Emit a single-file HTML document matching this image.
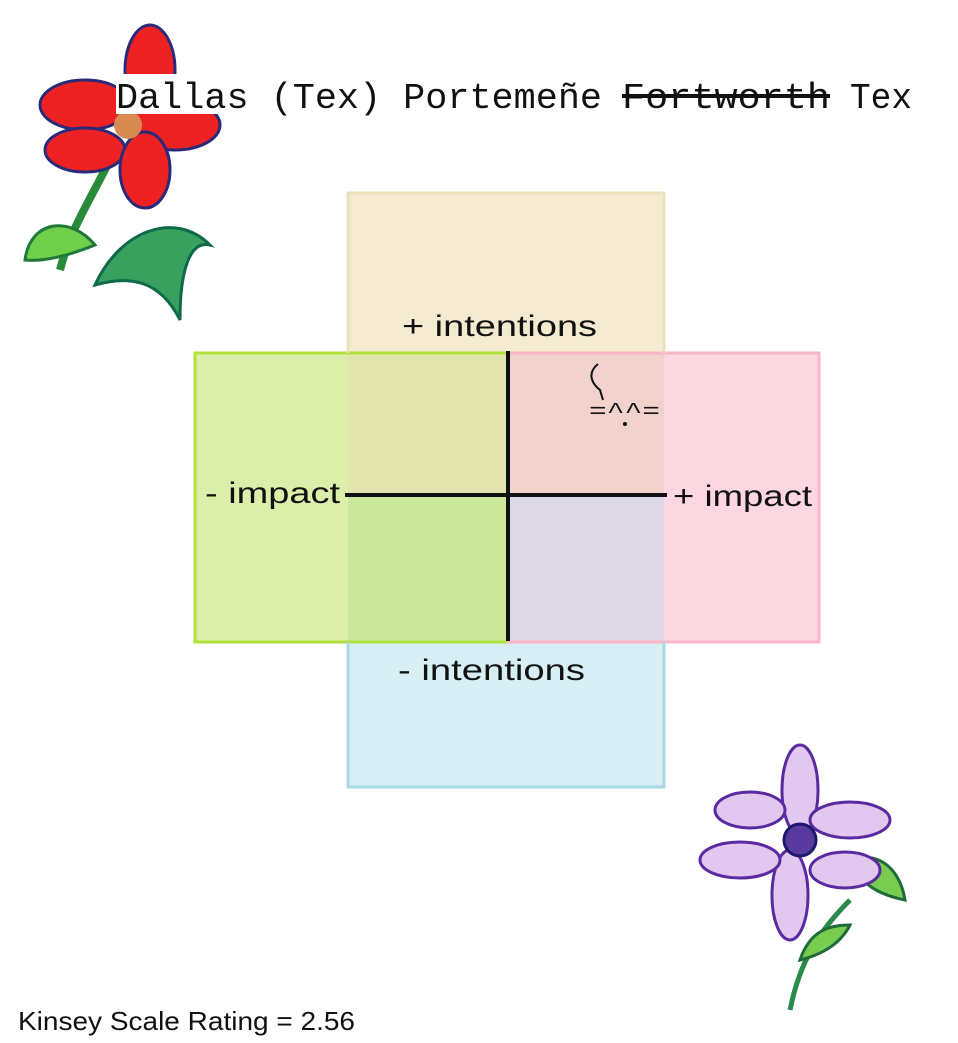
<!DOCTYPE html>
<html><head><meta charset="utf-8"><style>
html,body{margin:0;padding:0;background:#fff;width:958px;height:1043px;overflow:hidden}
svg{display:block}
</style></head><body>
<svg width="958" height="1043" viewBox="0 0 958 1043" xmlns="http://www.w3.org/2000/svg">
<!-- red flower -->
<g>
<path d="M60 270 C70 230 90 200 110 160" stroke="#2a8a3a" stroke-width="8" fill="none"/>
<path d="M25 260 C30 220 70 215 95 245 C70 255 45 262 25 260Z" fill="#6fcf4a" stroke="#1f7a3a" stroke-width="3"/>
<path d="M95 285 C120 230 175 210 210 245 C190 240 180 270 180 320 C160 280 130 275 95 285Z" fill="#3aa060" stroke="#0f6a4a" stroke-width="3"/>
<ellipse cx="85" cy="105" rx="45" ry="25" fill="#ee2222" stroke="#2a2a7a" stroke-width="3"/>
<ellipse cx="150" cy="70" rx="25" ry="45" fill="#ee2222" stroke="#2a2a7a" stroke-width="3"/>
<ellipse cx="175" cy="125" rx="45" ry="25" fill="#ee2222" stroke="#2a2a7a" stroke-width="3"/>
<ellipse cx="85" cy="150" rx="40" ry="22" fill="#ee2222" stroke="#2a2a7a" stroke-width="3"/>
<ellipse cx="145" cy="170" rx="25" ry="38" fill="#ee2222" stroke="#2a2a7a" stroke-width="3"/>
<circle cx="128" cy="125" r="14" fill="#d88a50"/>
</g>
<!-- purple flower -->
<g>
<path d="M790 1010 C800 960 820 930 850 900" stroke="#2a8a4a" stroke-width="5" fill="none"/>
<path d="M850 860 C880 850 900 870 905 900 C880 895 860 885 850 860Z" fill="#7acc50" stroke="#1f6a3a" stroke-width="3"/>
<path d="M800 960 C810 930 830 925 850 925 C840 945 820 955 800 960Z" fill="#7acc50" stroke="#1f6a3a" stroke-width="3"/>
<ellipse cx="800" cy="790" rx="18" ry="45" fill="#e2c8ee" stroke="#5a2aa0" stroke-width="3"/>
<ellipse cx="850" cy="820" rx="40" ry="18" fill="#e2c8ee" stroke="#5a2aa0" stroke-width="3"/>
<ellipse cx="845" cy="870" rx="35" ry="18" fill="#e2c8ee" stroke="#5a2aa0" stroke-width="3"/>
<ellipse cx="790" cy="895" rx="18" ry="45" fill="#e2c8ee" stroke="#5a2aa0" stroke-width="3"/>
<ellipse cx="740" cy="860" rx="40" ry="18" fill="#e2c8ee" stroke="#5a2aa0" stroke-width="3"/>
<ellipse cx="750" cy="810" rx="35" ry="18" fill="#e2c8ee" stroke="#5a2aa0" stroke-width="3"/>
<circle cx="800" cy="840" r="16" fill="#5a3aa0" stroke="#1a1a6a" stroke-width="3"/>
</g>
<!-- title -->
<g font-family="Liberation Mono, monospace" font-size="36" fill="#111">
<rect x="116" y="74" width="110" height="40" fill="#fff"/>
<text x="116" y="108" textLength="486" lengthAdjust="spacingAndGlyphs">Dallas (Tex) Portemeñe</text>
<text x="622" y="108" textLength="208" lengthAdjust="spacingAndGlyphs">Fortworth</text>
<line x1="622" y1="96" x2="830" y2="96" stroke="#111" stroke-width="4"/>
<text x="850" y="108" textLength="62" lengthAdjust="spacingAndGlyphs">Tex</text>
</g>
<!-- boxes -->
<rect x="348" y="193" width="316" height="160" fill="#f4ead2" stroke="#ece0b8" stroke-width="3"/>
<rect x="348" y="642" width="316" height="145" fill="#d6eef4" stroke="#a6d8e6" stroke-width="3"/>
<rect x="195" y="353" width="153" height="289" fill="#dcefaa"/>
<rect x="664" y="353" width="155" height="289" fill="#fcd6e0"/>
<rect x="348" y="353" width="160" height="142" fill="#e2e6ae"/>
<rect x="508" y="353" width="156" height="142" fill="#f2d2cc"/>
<rect x="348" y="495" width="160" height="147" fill="#cbe89a"/>
<rect x="508" y="495" width="156" height="147" fill="#dcd8e6"/>
<rect x="195" y="353" width="313" height="289" fill="none" stroke="#b2e03a" stroke-width="3"/>
<rect x="508" y="353" width="311" height="289" fill="none" stroke="#f8b6c8" stroke-width="3"/>
<line x1="348" y1="195" x2="348" y2="353" stroke="#ece0b8" stroke-width="3"/>
<line x1="664" y1="195" x2="664" y2="353" stroke="#ece0b8" stroke-width="3"/>
<line x1="348" y1="642" x2="348" y2="787" stroke="#a6d8e6" stroke-width="3"/>
<line x1="664" y1="642" x2="664" y2="787" stroke="#a6d8e6" stroke-width="3"/>
<!-- axes -->
<line x1="508" y1="351" x2="508" y2="641" stroke="#111" stroke-width="4"/>
<line x1="345" y1="495" x2="667" y2="495" stroke="#111" stroke-width="4"/>
<!-- labels -->
<g font-family="Liberation Sans, sans-serif" font-size="30" fill="#111">
<text x="402" y="336" textLength="195" lengthAdjust="spacingAndGlyphs">+ intentions</text>
<text x="398" y="680" textLength="187" lengthAdjust="spacingAndGlyphs">- intentions</text>
<text x="205" y="503" textLength="135" lengthAdjust="spacingAndGlyphs">- impact</text>
<text x="673" y="506" textLength="139" lengthAdjust="spacingAndGlyphs">+ impact</text>
</g>
<g font-family="Liberation Mono, monospace" font-size="22" fill="#111">
<path d="M598 364 C588 372 590 382 600 390 L603 400" stroke="#111" stroke-width="2" fill="none"/>
<text x="589" y="418" textLength="71" lengthAdjust="spacingAndGlyphs">=^^=</text>
<circle cx="625" cy="424" r="2" fill="#111"/>
</g>
<text x="18" y="1030" font-family="Liberation Sans, sans-serif" font-size="26" fill="#111" textLength="337" lengthAdjust="spacingAndGlyphs">Kinsey Scale Rating = 2.56</text>
</svg>
</body></html>
